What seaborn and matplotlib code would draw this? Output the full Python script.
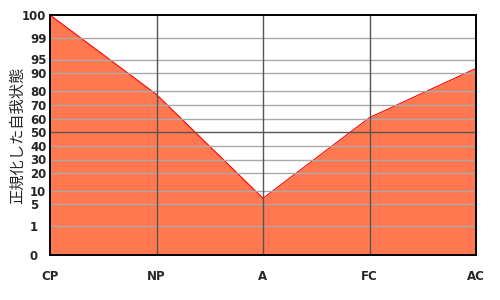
import numpy as np
import pandas as pd
import matplotlib
matplotlib.use("Agg")
import matplotlib.pyplot as plt
import matplotlib.transforms as mtransforms
import seaborn as sns

# Data
categories = ["CP", "NP", "A", "FC", "AC"]
values = [100, 77.5, 7.1, 61, 91.7]
ytick_values = [0, 1, 5, 10, 20, 30, 40, 50, 60, 70, 80, 90, 95, 99, 100]
ytick_labels = ["0", "1", "5", "10", "20", "30", "40", "50", "60", "70", "80", "90", "95", "99", "100"]

# Scale geometry (pixel heights of the tick levels on the reference's normalized axis)
scale_pos = [0, 29, 51, 64.5, 82, 95.5, 109, 123, 136, 150, 164, 182, 195.5, 217, 240]

def fwd(v):
    return np.interp(v, ytick_values, scale_pos)

def inv(v):
    return np.interp(v, scale_pos, ytick_values)

sns.set_style("white")
plt.rcParams['font.family'] = ['DejaVu Sans']

df = pd.DataFrame({"x": np.arange(len(categories)), "v": values})

fig = plt.figure(figsize=(5, 3), dpi=100)
ax = fig.add_axes([50/500, 45/300, 426/500, 240/300])
ax.set_yscale('function', functions=(fwd, inv))

ax.fill_between(df["x"], 0, df["v"], color="#FF7850", zorder=1, linewidth=0)
sns.lineplot(data=df, x="x", y="v", ax=ax, color="#FF0000", linewidth=0.8, zorder=2)

ax.set_xlim(0, len(categories) - 1)
ax.set_ylim(0, 100)

# grid lines
for yv in ytick_values[1:-1]:
    if yv == 50:
        ax.axhline(yv, color="#555555", linewidth=1.0, zorder=3)
    else:
        ax.axhline(yv, color="#AAAAAA", linewidth=1.0, zorder=3)
for xv in range(1, len(categories) - 1):
    ax.axvline(xv, color="#555555", linewidth=1.0, zorder=3)

ax.set_xticks(range(len(categories)))
ax.set_xticklabels(categories, fontsize=8.5, fontweight='bold')
ax.set_yticks(ytick_values)
ax.set_yticklabels(ytick_labels, fontsize=8.5, fontweight='bold', ha='left')
ax.tick_params(axis='x', length=0, pad=11)
ax.tick_params(axis='y', length=0, pad=14.4)

for lab in ax.get_yticklabels():
    if lab.get_text() == "100":
        lab.set_transform(lab.get_transform() + mtransforms.ScaledTranslation(-8/100, 0, fig.dpi_scale_trans))

ax.set_xlabel("")
ax.set_ylabel("正規化した自我状態", fontsize=11, family=['Noto Sans CJK JP', 'DejaVu Sans'])
ax.yaxis.set_label_coords(-24/426, 0.5)

for sp in ax.spines.values():
    sp.set_visible(True)
    sp.set_color("black")
    sp.set_linewidth(1.4)
    sp.set_zorder(5)

fig.savefig("out.png", dpi=100)
